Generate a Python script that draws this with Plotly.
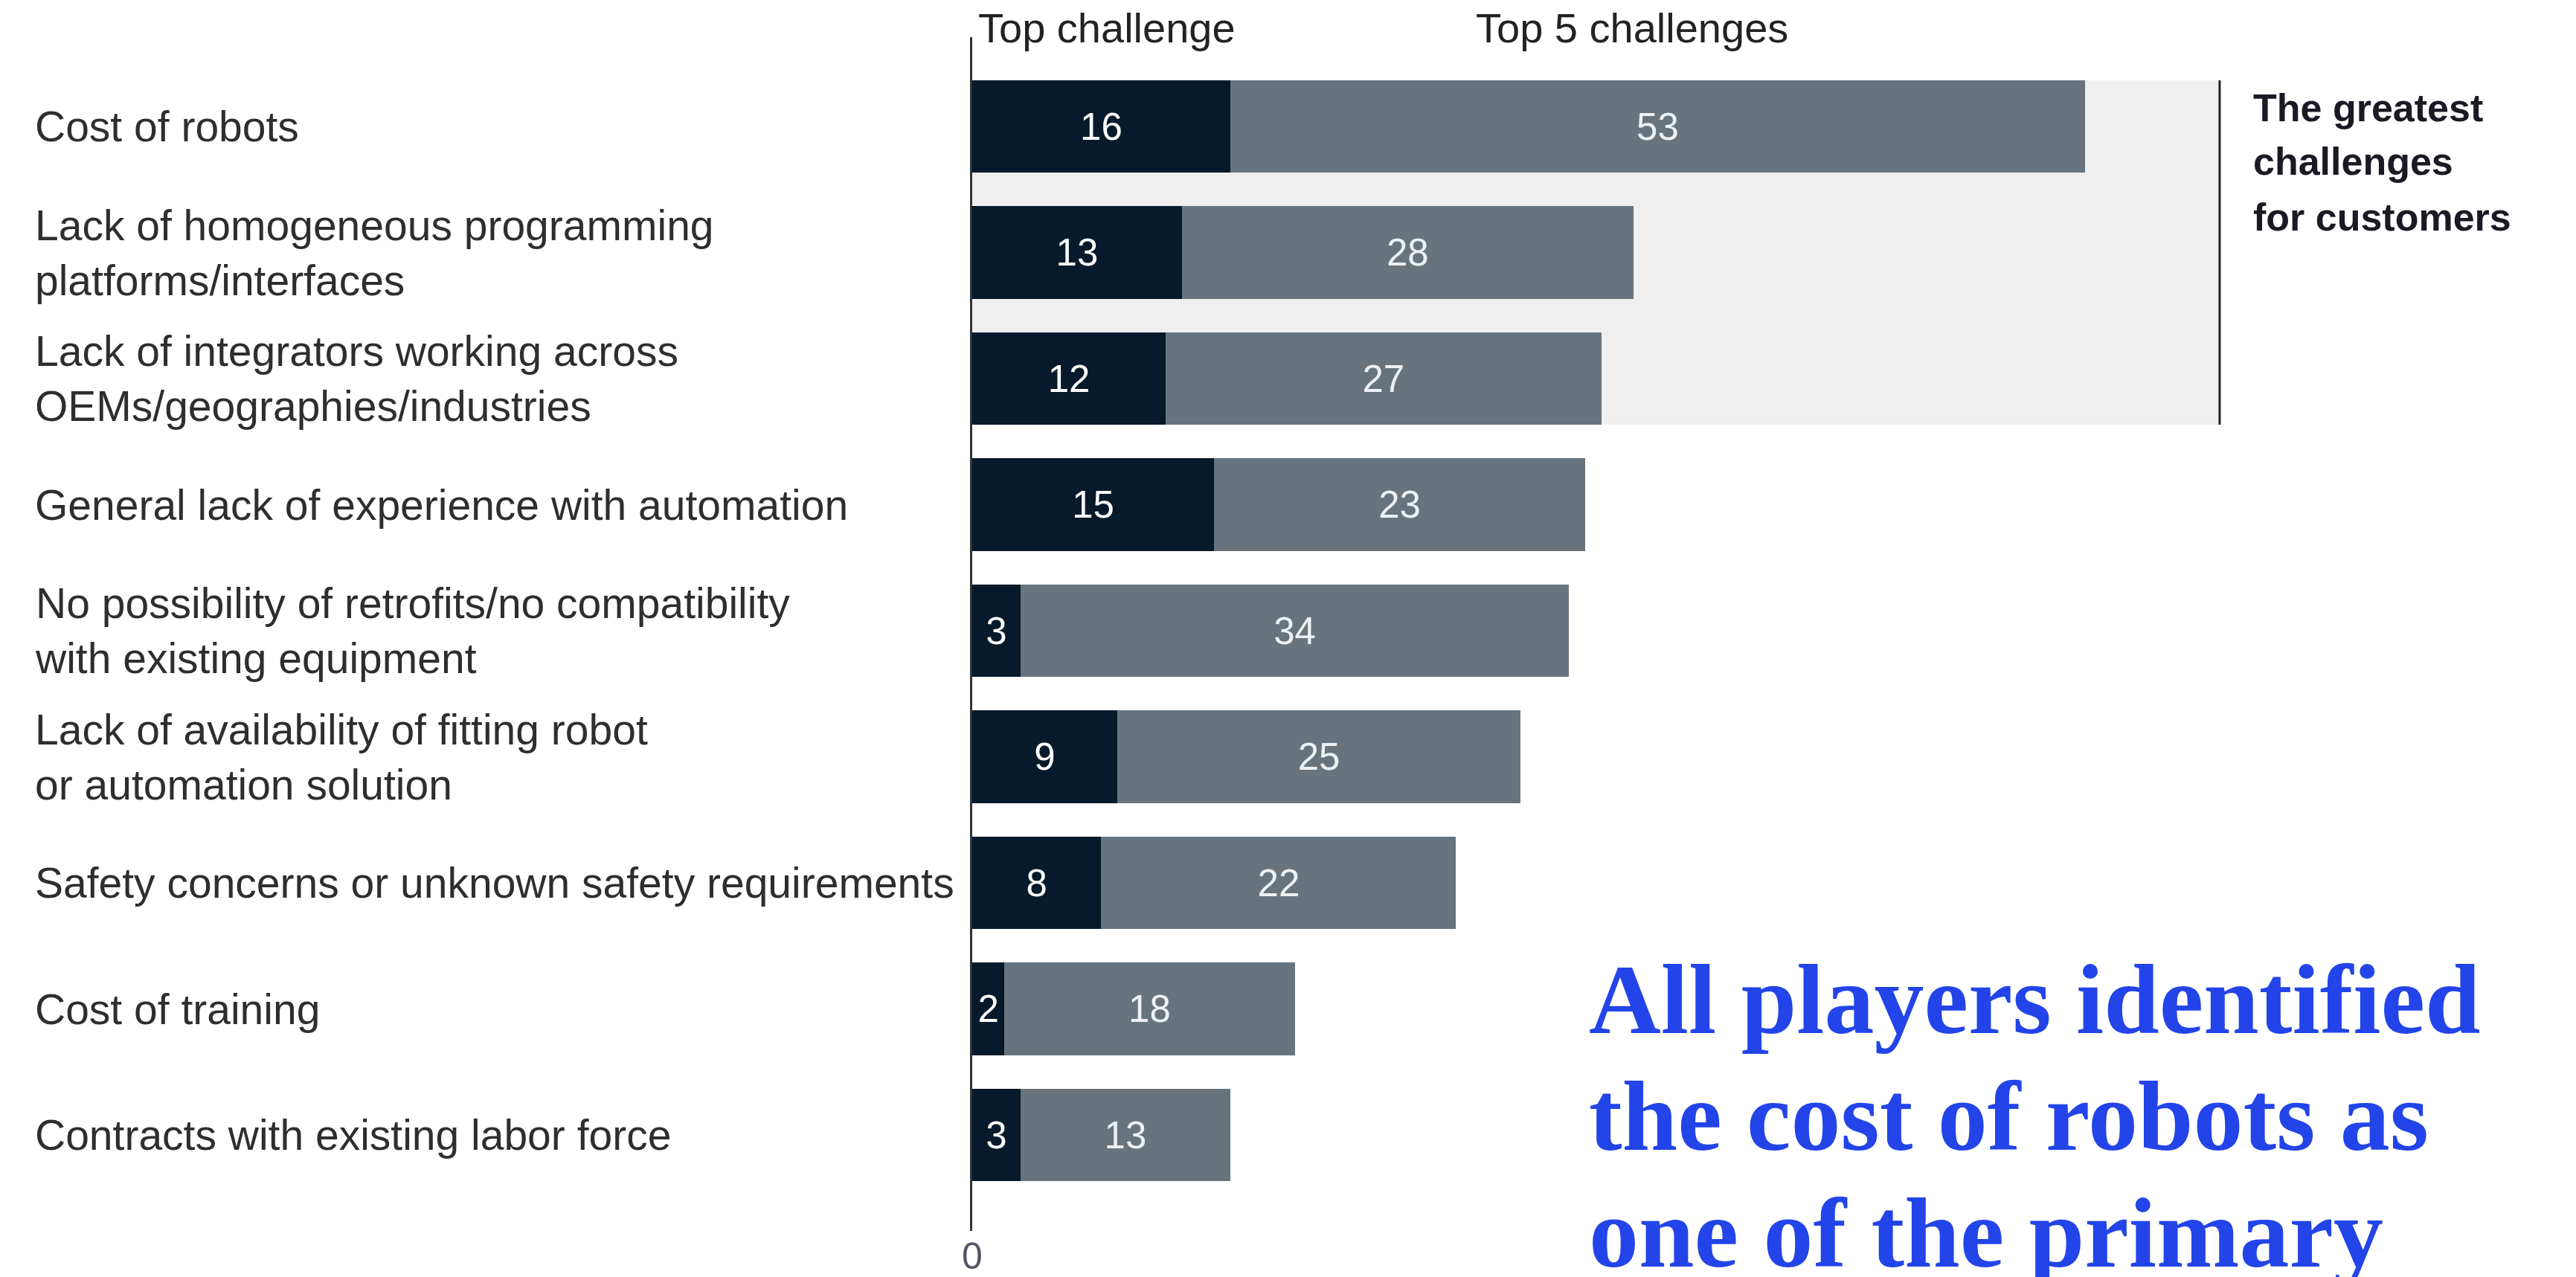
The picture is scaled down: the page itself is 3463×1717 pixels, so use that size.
import plotly.graph_objects as go

# ---- data ----
categories = [
    "Cost of robots",
    "Lack of homogeneous programming<br>platforms/interfaces",
    "Lack of integrators working across<br>OEMs/geographies/industries",
    "General lack of experience with automation",
    "No possibility of retrofits/no compatibility<br>with existing equipment",
    "Lack of availability of fitting robot<br>or automation solution",
    "Safety concerns or unknown safety requirements",
    "Cost of training",
    "Contracts with existing labor force",
]
top_challenge = [16, 13, 12, 15, 3, 9, 8, 2, 3]
top5_challenges = [53, 28, 27, 23, 34, 25, 22, 18, 13]
series_names = ["Top challenge", "Top 5 challenges"]
x_tick_vals = [0]
x_tick_text = ["0"]
highlight_rows = 3          # first three rows are highlighted
highlight_extent = 77.35    # x-extent of the highlight box (data units)
side_note = ["The greatest", "challenges", "for customers"]
overlay_lines = ["All players identified", "the cost of robots as", "one of the primary"]

# ---- layout geometry (pixels) ----
W, H = 3463, 1717
ML, MR, MT, MB = 1307, 0, 50, 62
PW = W - ML - MR
PH = H - MT - MB
X_MAX = PW / 21.68


def px_x(p):
    return (p - ML) / PW


def px_y(p):
    return (H - MB - p) / PH


DARK = "#071a2b"
GREY = "#68747d"
BAND = "#efefef"
TEXT = "#2e2e2e"
BLUE = "#2244e8"
SANS = "Liberation Sans, Arial, sans-serif"
SERIF = "Liberation Serif, Times New Roman, serif"

fig = go.Figure()
fig.add_trace(go.Bar(
    y=categories, x=top_challenge, orientation="h", name=series_names[0],
    marker=dict(color=DARK, line=dict(width=0)),
    text=[str(v) for v in top_challenge], textposition="inside",
    insidetextanchor="middle", textangle=0, constraintext="none",
    textfont=dict(family=SANS, size=51, color="#ffffff"),
))
fig.add_trace(go.Bar(
    y=categories, x=top5_challenges, orientation="h", name=series_names[1],
    marker=dict(color=GREY, line=dict(width=0)),
    text=[str(v) for v in top5_challenges], textposition="inside",
    insidetextanchor="middle", textangle=0, constraintext="none",
    textfont=dict(family=SANS, size=51, color="#eef1f3"),
))

half = (1 - 0.268) / 2
shapes = [
    dict(type="rect", xref="x", yref="y", x0=0, x1=highlight_extent,
         y0=-half, y1=highlight_rows - 1 + half,
         fillcolor=BAND, line=dict(width=0), layer="below"),
    dict(type="line", xref="x", yref="y", x0=highlight_extent, x1=highlight_extent,
         y0=-half, y1=highlight_rows - 1 + half,
         line=dict(color="#222222", width=3)),
]

annotations = []
for i, c in enumerate(categories):
    annotations.append(dict(
        x=px_x(45), xref="paper", xanchor="left", y=i, yref="y", yanchor="middle",
        text=c, showarrow=False, align="left",
        font=dict(family=SANS, size=57, color=TEXT),
    ))

annotations.append(dict(x=px_x(1313), xref="paper", xanchor="left", y=px_y(38), yref="paper",
                        yanchor="middle", text=series_names[0], showarrow=False,
                        font=dict(family=SANS, size=56, color="#222222")))
annotations.append(dict(x=px_x(1982), xref="paper", xanchor="left", y=px_y(38), yref="paper",
                        yanchor="middle", text=series_names[1], showarrow=False,
                        font=dict(family=SANS, size=56, color="#222222")))

for j, (t, yc) in enumerate(zip(side_note, [145, 217, 292])):
    annotations.append(dict(x=px_x(3027), xref="paper", xanchor="left", y=px_y(yc), yref="paper",
                            yanchor="middle", text="<b>%s</b>" % t, showarrow=False,
                            font=dict(family=SANS, size=52, color="#1a1a24")))

for t, yc in zip(overlay_lines, [1344, 1501, 1658]):
    annotations.append(dict(x=px_x(2134), xref="paper", xanchor="left", y=px_y(yc), yref="paper",
                            yanchor="middle", text="<b>%s</b>" % t, showarrow=False,
                            font=dict(family=SERIF, size=134, color=BLUE)))

fig.update_layout(
    width=W, height=H, barmode="stack", bargap=0.268,
    margin=dict(l=ML, r=MR, t=MT, b=MB, pad=0),
    paper_bgcolor="#ffffff", plot_bgcolor="#ffffff",
    showlegend=False, shapes=shapes, annotations=annotations,
    xaxis=dict(range=[0, X_MAX], showgrid=False, zeroline=False, showline=False,
               tickvals=x_tick_vals, ticktext=x_tick_text, ticks="",
               tickfont=dict(family=SANS, size=50, color="#555566"), fixedrange=True),
    yaxis=dict(range=[8 + (H - MB - 1526) / 169.5, -(170 - MT) / 169.5],
               showgrid=False, zeroline=False, showline=True, linecolor="#333333",
               linewidth=3, showticklabels=False, ticks="", fixedrange=True),
)

fig.write_html("out.html")
